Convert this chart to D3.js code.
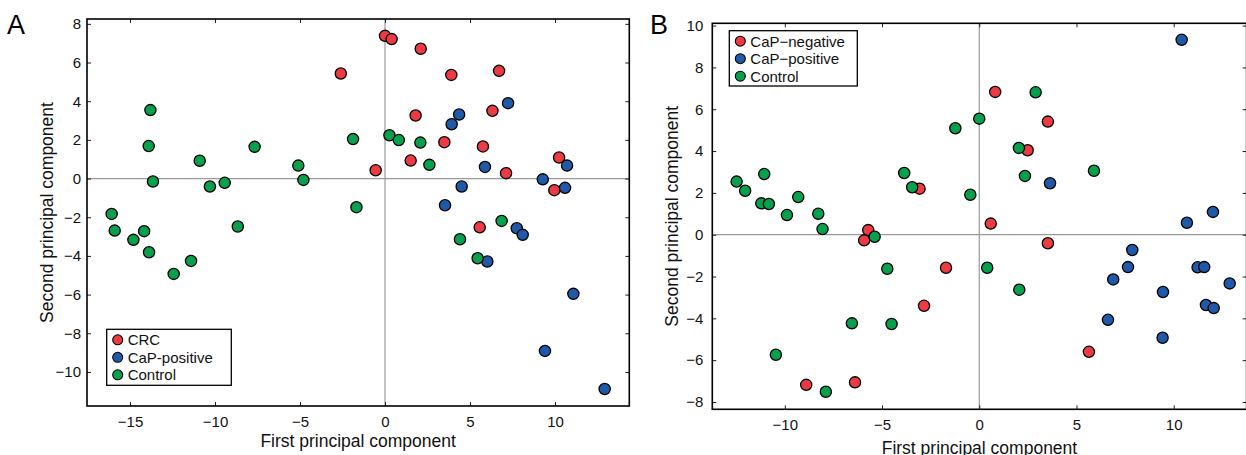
<!DOCTYPE html>
<html lang="en">
<head>
<meta charset="UTF-8">
<title>PCA scatter plots</title>
<script src="https://d3js.org/d3.v7.min.js"></script>
<style>
    body { margin: 0; background: #fff; }
    svg { display: block; font-family: Arial, 'Liberation Sans', sans-serif; }
    .tick text { font-size: 15px; fill: #111; }
    .domain { display: none; }
    .tick line { stroke: #222; stroke-width: 1; }
</style>
</head>
<body>
<svg id="chart" width="1246" height="455"></svg>
<script>
    // panel A groups: [first PC, second PC]
    const crcA = [[0.0, 7.38], [0.39, 7.21], [2.1, 6.71], [-2.6, 5.43], [3.9, 5.36], [6.71, 5.57],
        [6.32, 3.5], [1.8, 3.26], [3.49, 1.88], [5.76, 1.66], [1.51, 0.93], [-0.55, 0.43],
        [7.12, 0.28], [10.24, 1.09], [9.96, -0.6], [5.57, -2.52]];
    const capPosA = [[7.24, 3.9], [4.36, 3.31], [3.92, 2.81], [5.88, 0.6], [10.71, 0.67], [9.28, -0.04],
        [10.59, -0.48], [4.51, -0.41], [3.53, -1.38], [7.75, -2.57], [8.1, -2.91], [6.02, -4.29],
        [11.08, -5.96], [9.41, -8.91], [12.92, -10.88]];
    const controlA = [[-13.8, 3.54], [-13.9, 1.68], [-13.65, -0.15], [-10.9, 0.92], [-10.3, -0.41],
        [-9.43, -0.22], [-7.67, 1.64], [-5.1, 0.67], [-4.8, -0.07], [-16.08, -1.83], [-8.66, -2.48],
        [-15.9, -2.69], [-14.8, -3.17], [-14.17, -2.72], [-13.88, -3.81], [-12.43, -4.93],
        [-11.41, -4.26], [-1.88, 2.04], [0.26, 2.24], [0.81, 1.99], [2.08, 1.86], [2.61, 0.71],
        [-1.68, -1.48], [6.86, -2.19], [4.41, -3.14], [5.45, -4.12]];

    // panel B groups
    const capNegB = [[-3.07, 2.2], [-5.71, 0.22], [-5.92, -0.27], [-2.84, -3.4], [-8.9, -7.18],
        [-6.39, -7.06], [-1.71, -1.58], [0.82, 6.83], [3.53, 5.41], [2.49, 4.04], [0.59, 0.53],
        [3.53, -0.41], [5.64, -5.6]];
    const capPosB = [[10.41, 9.32], [3.64, 2.46], [12.02, 1.09], [10.68, 0.57], [7.87, -0.73],
        [7.65, -1.55], [6.89, -2.14], [9.45, -2.74], [11.23, -1.56], [11.57, -1.55], [12.88, -2.33],
        [11.66, -3.36], [12.06, -3.51], [6.62, -4.07], [9.43, -4.93]];
    const controlB = [[-12.48, 2.54], [-12.04, 2.1], [-11.06, 2.9], [-11.21, 1.5], [-10.82, 1.47],
        [-9.31, 1.8], [-9.89, 0.94], [-8.28, 1.0], [-3.86, 2.95], [-3.45, 2.27], [-8.06, 0.27],
        [-5.38, -0.1], [-4.73, -1.63], [-6.55, -4.24], [-4.51, -4.27], [-10.46, -5.74],
        [-7.89, -7.51], [2.9, 6.81], [0.0, 5.55], [-1.23, 5.09], [2.04, 4.15], [2.35, 2.81],
        [5.9, 3.06], [-0.46, 1.91], [0.41, -1.58], [2.06, -2.63]];

    const xTicksA = [-15, -10, -5, 0, 5, 10];
    const yTicksA = [-10, -8, -6, -4, -2, 0, 2, 4, 6, 8];
    const xTicksB = [-10, -5, 0, 5, 10];
    const yTicksB = [-8, -6, -4, -2, 0, 2, 4, 6, 8, 10];

    const legendA = ["CRC", "CaP-positive", "Control"];
    const legendB = ["CaP\u2212negative", "CaP\u2212positive", "Control"];

    const red = "#ee3a43", blue = "#1f59a8", green = "#07a04c";

    const svg = d3.select("#chart");
    const fmt = d => d < 0 ? "\u2212" + Math.abs(d) : "" + d;

    function drawPanel(cfg) {
        const x = d3.scaleLinear().domain(cfg.xDomain).range([cfg.left, cfg.right]);
        const y = d3.scaleLinear().domain(cfg.yDomain).range([cfg.bottom, cfg.top]);
        const g = svg.append("g");

        // zero reference lines
        g.append("line")
            .attr("x1", x(0)).attr("x2", x(0)).attr("y1", cfg.top).attr("y2", cfg.bottom)
            .attr("stroke", "#9a9a9a").attr("stroke-width", 1.2);
        g.append("line")
            .attr("x1", cfg.left).attr("x2", cfg.right).attr("y1", y(0)).attr("y2", y(0))
            .attr("stroke", "#9a9a9a").attr("stroke-width", 1.2);

        cfg.groups.forEach(grp => {
            g.append("g").selectAll("circle")
                .data(grp.data)
                .enter()
                .append("circle")
                .attr("cx", d => x(d[0]))
                .attr("cy", d => y(d[1]))
                .attr("r", 5.6)
                .attr("fill", grp.color)
                .attr("stroke", "#000")
                .attr("stroke-width", 1.3);
        });

        // axes with inward ticks
        g.append("g").attr("transform", `translate(0,${cfg.bottom})`)
            .call(d3.axisBottom(x).tickValues(cfg.xTicks).tickFormat(fmt).tickSizeInner(-4).tickSizeOuter(0).tickPadding(10));
        g.append("g").attr("transform", `translate(0,${cfg.top})`)
            .call(d3.axisTop(x).tickValues(cfg.xTicks).tickFormat("").tickSizeInner(-4).tickSizeOuter(0));
        g.append("g").attr("transform", `translate(${cfg.left},0)`)
            .call(d3.axisLeft(y).tickValues(cfg.yTicks).tickFormat(fmt).tickSizeInner(-4).tickSizeOuter(0).tickPadding(cfg.yPad));
        g.append("g").attr("transform", `translate(${cfg.right},0)`)
            .call(d3.axisRight(y).tickValues(cfg.yTicks).tickFormat("").tickSizeInner(-4).tickSizeOuter(0));

        g.append("rect")
            .attr("x", cfg.left).attr("y", cfg.top)
            .attr("width", cfg.right - cfg.left).attr("height", cfg.bottom - cfg.top)
            .attr("fill", "none").attr("stroke", "#000").attr("stroke-width", 1.6);

        // axis titles
        g.append("text")
            .attr("x", (cfg.left + cfg.right) / 2).attr("y", cfg.xTitleY)
            .attr("text-anchor", "middle").attr("font-size", 17.5).attr("fill", "#111")
            .text("First principal component");
        g.append("text")
            .attr("transform", `translate(${cfg.yTitleX},${(cfg.top + cfg.bottom) / 2}) rotate(-90)`)
            .attr("text-anchor", "middle").attr("font-size", 17.5).attr("fill", "#111")
            .text("Second principal component");

        g.append("text")
            .attr("x", cfg.labelX).attr("y", 34)
            .attr("font-size", 27).attr("fill", "#000")
            .text(cfg.label);

        // legend
        const lg = cfg.legend;
        g.append("rect")
            .attr("x", lg.x).attr("y", lg.y).attr("width", lg.w).attr("height", lg.h)
            .attr("fill", "#fff").attr("stroke", "#000").attr("stroke-width", 1.3);
        cfg.groups.forEach((grp, i) => {
            const cy = lg.y + 10.5 + i * 17.5;
            g.append("circle")
                .attr("cx", lg.x + 11).attr("cy", cy).attr("r", 5)
                .attr("fill", grp.color).attr("stroke", "#000").attr("stroke-width", 1.1);
            g.append("text")
                .attr("x", lg.x + 21).attr("y", cy + 5.5)
                .attr("font-size", 15).attr("fill", "#111")
                .text(lg.names[i]);
        });
    }

    drawPanel({
        label: "A", labelX: 7,
        left: 87, right: 629.3, top: 19, bottom: 406,
        xDomain: [-17.53, 14.37], yDomain: [-11.76, 8.25],
        xTicks: xTicksA, yTicks: yTicksA, yPad: 6,
        xTitleY: 447, yTitleX: 53,
        groups: [{ data: crcA, color: red }, { data: capPosA, color: blue }, { data: controlA, color: green }],
        legend: { x: 106.7, y: 329.3, w: 124.6, h: 56, names: legendA }
    });

    drawPanel({
        label: "B", labelX: 650,
        left: 712.3, right: 1246.6, top: 23.3, bottom: 409.3,
        xDomain: [-13.73, 13.75], yDomain: [-8.35, 10.11],
        xTicks: xTicksB, yTicks: yTicksB, yPad: 9,
        xTitleY: 454, yTitleX: 678,
        groups: [{ data: capNegB, color: red }, { data: capPosB, color: blue }, { data: controlB, color: green }],
        legend: { x: 729.3, y: 30.7, w: 128, h: 55.3, names: legendB }
    });
</script>
</body>
</html>
